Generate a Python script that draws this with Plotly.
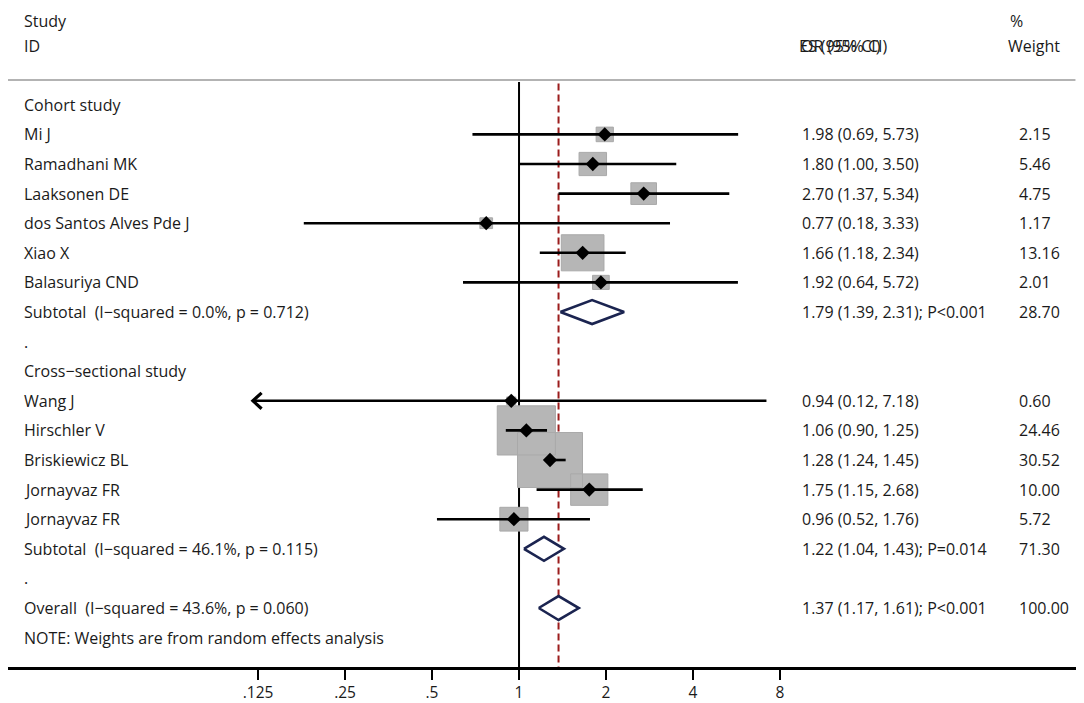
import plotly.graph_objects as go

# forest plot: OR of studies, grouped by design

study_names = ['Mi J', 'Ramadhani MK', 'Laaksonen DE', 'dos Santos Alves Pde J', 'Xiao X', 'Balasuriya CND',
               'Wang J', 'Hirschler V', 'Briskiewicz BL', 'Jornayvaz FR', 'Jornayvaz FR']
study_rows = [4, 5, 6, 7, 8, 9, 13, 14, 15, 16, 17]
study_or = [1.98, 1.80, 2.70, 0.77, 1.66, 1.92, 0.94, 1.06, 1.28, 1.75, 0.96]
study_lo = [0.69, 1.00, 1.37, 0.18, 1.18, 0.64, 0.12, 0.90, 1.24, 1.15, 0.52]
study_hi = [5.73, 3.50, 5.34, 3.33, 2.34, 5.72, 7.18, 1.25, 1.45, 2.68, 1.76]
study_wt = [2.15, 5.46, 4.75, 1.17, 13.16, 2.01, 0.60, 24.46, 30.52, 10.00, 5.72]

pool_names = ['Subtotal  (I\u2212squared = 0.0%, p = 0.712)',
              'Subtotal  (I\u2212squared = 46.1%, p = 0.115)',
              'Overall  (I\u2212squared = 43.6%, p = 0.060)']
pool_rows = [10, 18, 20]
pool_or = [1.79, 1.22, 1.37]
pool_lo = [1.39, 1.04, 1.17]
pool_hi = [2.31, 1.43, 1.61]
pool_p = ['P<0.001', 'P=0.014', 'P<0.001']
pool_wt = ['28.70', '71.30', '100.00']

other_labels = ['ID', 'Cohort study', '.', 'Cross\u2212sectional study', '.',
                'NOTE: Weights are from random effects analysis']
other_rows = [1, 3, 11, 12, 19, 21]

tick_vals = [0.125, 0.25, 0.5, 1, 2, 4, 8]
tick_text = ['.125', '.25', '.5', '1', '2', '4', '8']

overall_or = pool_or[-1]

FONT = 'Open Sans'
FS = 16
TXT = '#1a1a1a'
NAVY = '#1b2450'
ROW_TOP = 2.23
ROW_BOTTOM = 21.993
Y_TOP = -0.2703

fig = go.Figure()

# reference line at 1 and dashed line at overall estimate
fig.add_trace(go.Scatter(x=[1, 1], y=[ROW_TOP, ROW_BOTTOM], mode='lines',
                         line=dict(color='black', width=2), hoverinfo='skip'))
fig.add_trace(go.Scatter(x=[overall_or, overall_or], y=[ROW_TOP + 0.05, ROW_BOTTOM], mode='lines',
                         line=dict(color='#9b1c1c', width=2, dash='7px,4px'), hoverinfo='skip'))

# weight boxes (area ~ weight)
bx, by = [], []
for r, o, w in zip(study_rows, study_or, study_wt):
    hw = 2 ** (0.0676 * w ** 0.5)
    hh = 0.168 * w ** 0.5
    bx += [o / hw, o * hw, o * hw, o / hw, o / hw, None]
    by += [r - hh, r - hh, r + hh, r + hh, r - hh, None]
fig.add_trace(go.Scatter(x=bx, y=by, mode='lines', fill='toself', fillcolor='#b6b6b6',
                         line=dict(color='#a9a9a9', width=1), hoverinfo='skip'))

# confidence intervals
cx, cy = [], []
for r, lo, hi in zip(study_rows, study_lo, study_hi):
    cx += [lo, hi, None]
    cy += [r, r, None]
fig.add_trace(go.Scatter(x=cx, y=cy, mode='lines', line=dict(color='black', width=2.6), hoverinfo='skip'))

# arrow where CI runs past the lowest tick
ax_, ay_ = [], []
for r, lo in zip(study_rows, study_lo):
    if lo < tick_vals[0]:
        ax_ += [lo * 2 ** 0.1, lo, lo * 2 ** 0.1, None]
        ay_ += [r - 0.27, r, r + 0.27, None]
fig.add_trace(go.Scatter(x=ax_, y=ay_, mode='lines', line=dict(color='black', width=3.2), hoverinfo='skip'))

fig.add_trace(go.Scatter(x=study_or, y=study_rows, mode='markers',
                         marker=dict(symbol='diamond', size=11, color='black'), hoverinfo='skip'))

# pooled diamonds
dx, dy = [], []
for r, o, lo, hi in zip(pool_rows, pool_or, pool_lo, pool_hi):
    dx += [lo, o, hi, o, lo, None]
    dy += [r, r - 0.405, r, r + 0.405, r, None]
fig.add_trace(go.Scatter(x=dx, y=dy, mode='lines', fill='toself', fillcolor='white',
                         line=dict(color=NAVY, width=2.6), hoverinfo='skip'))

# text columns
def txt(x, y, s, yanchor='middle'):
    fig.add_annotation(x=x, y=y, xref='paper', yref='y', text=s, showarrow=False,
                       xanchor='left', yanchor=yanchor, font=dict(family=FONT, size=FS, color=TXT))

X_LAB = (22 - 8) / 1068
X_OR = (800 - 8) / 1068
X_WT = (1017 - 8) / 1068
X_WTH = (1006 - 8) / 1068

# first header row sits at the very top edge
txt(X_LAB, Y_TOP, 'Study', yanchor='top')
txt((1008 - 8) / 1068, Y_TOP, '%', yanchor='top')

for s, r in zip(other_labels, other_rows):
    txt(X_LAB, r, s)
for s, r in zip(study_names, study_rows):
    txt(X_LAB, r, s)
for s, r in zip(pool_names, pool_rows):
    txt(X_LAB, r, s)
for r, o, lo, hi, w in zip(study_rows, study_or, study_lo, study_hi, study_wt):
    txt(X_OR, r, f'{o:.2f} ({lo:.2f}, {hi:.2f})')
    txt(X_WT, r, f'{w:.2f}')
for r, o, lo, hi, p, w in zip(pool_rows, pool_or, pool_lo, pool_hi, pool_p, pool_wt):
    txt(X_OR, r, f'{o:.2f} ({lo:.2f}, {hi:.2f}); {p}')
    txt(X_WT, r, w)

# header (two labels printed on top of each other in the original)
txt((797 - 8) / 1068, 1, 'ES (95% CI)')
txt((799 - 8) / 1068, 1, 'OR (95% CI)')
txt(X_WTH, 1, 'Weight')

fig.add_shape(type='line', xref='paper', yref='y', x0=0, x1=0.9995, y0=2.162, y1=2.162,
              line=dict(color='#9a9a9a', width=1.6), layer='below')

# page body adds 8px, so the figure is 8px smaller on each side
fig.update_layout(
    width=1076, height=695,
    margin=dict(l=0, r=8, t=0, b=36),
    paper_bgcolor='white', plot_bgcolor='white',
    showlegend=False,
    font=dict(family=FONT, size=FS, color=TXT),
)
fig.update_xaxes(type='log', range=[-1.7682, 1.9272],
                 tickvals=tick_vals, ticktext=tick_text,
                 ticks='outside', ticklen=10, tickwidth=2, tickcolor='black',
                 showline=True, linecolor='black', linewidth=2.5,
                 showgrid=False, zeroline=False,
                 tickfont=dict(family=FONT, size=15.5, color=TXT))
fig.update_yaxes(range=[ROW_BOTTOM, Y_TOP], visible=False, showgrid=False, zeroline=False)

fig.write_html('out.html')
